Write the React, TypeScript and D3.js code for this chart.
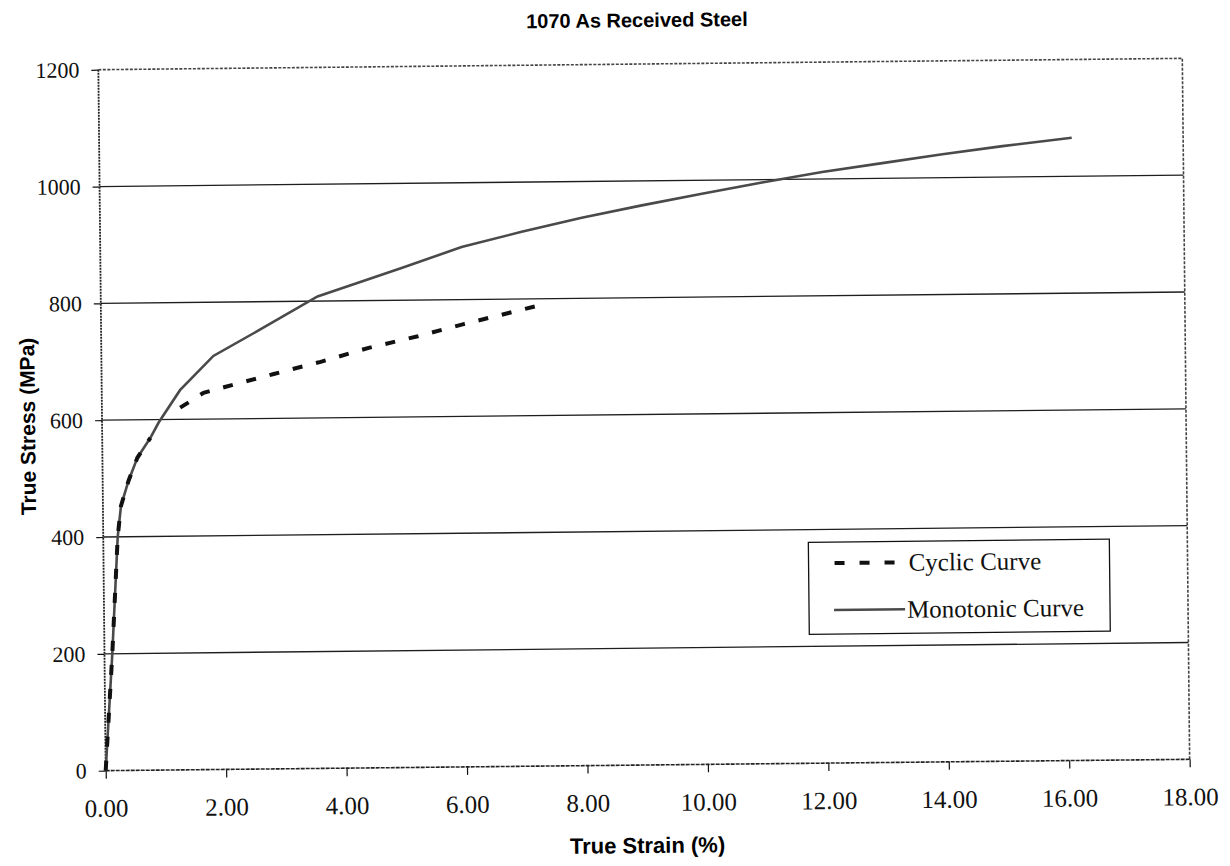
import * as React from 'react';
import * as d3 from 'd3';

// values (strain in %, stress in MPa)
const monoStrain = [0, 0.13, 0.24, 0.30, 0.43, 0.58, 0.80, 0.94, 1.30, 1.86, 2.60, 3.60, 5.00, 6.00, 7.00, 8.00, 9.00, 10.00, 11.00, 12.00, 13.00, 14.00, 15.00, 16.15];
const monoStress = [0, 200, 400, 453, 496, 535, 569, 595, 650, 708, 750, 808, 855, 890, 915, 938, 958, 977, 995, 1012, 1026, 1040, 1053, 1066];

// NaN marks the gap in the cyclic series
const cyclicStrain = [0, 0.13, 0.24, 0.30, 0.43, 0.58, 0.80, 1.00, 1.30, 1.69, 2.06, 2.86, 3.64, 4.44, 5.26, 6.02, 6.60, 7.21];
const cyclicStress = [0, 200, 400, 453, 496, 535, 569, NaN, 620, 645, 655, 676, 696, 719, 738, 758, 772, 787];

const xTicks = [0, 2, 4, 6, 8, 10, 12, 14, 16, 18];
const yTicks = [0, 200, 400, 600, 800, 1000, 1200];

const legendLabels = ['Cyclic Curve', 'Monotonic Curve'];

const serif = '"Liberation Serif", "Times New Roman", serif';
const sans = '"Liberation Sans", Arial, sans-serif';

export default class App extends React.PureComponent {

    svg: SVGSVGElement | null = null;

    componentDidMount() {
        this._draw();
    }

    _draw() {
        const width = 1230;
        const height = 866;
        const margin = { top: 64, right: 44, bottom: 101, left: 102 };
        const w = width - margin.left - margin.right;
        const h = height - margin.top - margin.bottom;

        const svg = d3.select(this.svg)
            .attr('width', width)
            .attr('height', height);
        svg.selectAll('*').remove();

        // the scan is slightly tilted
        const root = svg.append('g').attr('transform', 'rotate(-0.6 645 415)');
        const g = root.append('g')
            .attr('transform', 'translate(' + margin.left + ',' + margin.top + ')');

        const x = d3.scaleLinear().domain([0, 18]).range([0, w]);
        const y = d3.scaleLinear().domain([0, 1200]).range([h, 0]);

        // gridlines
        g.selectAll('.grid')
            .data(yTicks.filter((v) => v > 0 && v < 1200))
            .enter()
            .append('line')
            .attr('class', 'grid')
            .attr('x1', 0)
            .attr('x2', w)
            .attr('y1', (d) => y(d))
            .attr('y2', (d) => y(d))
            .attr('stroke', '#1e1e1e')
            .attr('stroke-width', 1.3);

        // plot border (top / right)
        g.append('path')
            .attr('d', 'M0,0H' + w + 'V' + h)
            .attr('fill', 'none')
            .attr('stroke', '#444')
            .attr('stroke-width', 1.6)
            .attr('stroke-dasharray', '3 1.5');

        // axes
        const xAxis = g.append('g')
            .attr('transform', 'translate(0,' + h + ')')
            .call(d3.axisBottom(x).tickValues(xTicks).tickSize(8).tickSizeOuter(0)
                .tickFormat((d) => d3.format('.2f')(d as number)));
        xAxis.select('.domain').remove();
        xAxis.selectAll('line').attr('stroke', '#111').attr('stroke-width', 1.2);
        xAxis.selectAll('text')
            .attr('y', 46)
            .attr('dy', null)
            .attr('fill', '#111')
            .style('font-family', serif)
            .style('font-size', '25px');

        const yAxis = g.append('g')
            .call(d3.axisLeft(y).tickValues(yTicks).tickSize(7).tickPadding(12).tickSizeOuter(0)
                .tickFormat((d) => d3.format('d')(d as number)));
        yAxis.select('.domain').remove();
        yAxis.selectAll('line').attr('stroke', '#111').attr('stroke-width', 1.2);
        yAxis.selectAll('text')
            .attr('fill', '#111')
            .style('font-family', serif)
            .style('font-size', '22px');

        g.append('line')
            .attr('x1', 0).attr('x2', w).attr('y1', h).attr('y2', h)
            .attr('stroke', '#222').attr('stroke-width', 1.6)
            .attr('stroke-dasharray', '4 1');
        g.append('line')
            .attr('x1', 0).attr('x2', 0).attr('y1', 0).attr('y2', h)
            .attr('stroke', '#222').attr('stroke-width', 1.8)
            .attr('stroke-dasharray', '2 1');

        // curves
        const mono: [number, number][] = monoStrain.map((v, i) => [v, monoStress[i]]);
        const cyclic: [number, number][] = cyclicStrain.map((v, i) => [v, cyclicStress[i]]);

        const line = d3.line<[number, number]>()
            .defined((d) => !isNaN(d[1]))
            .x((d) => x(d[0]))
            .y((d) => y(d[1]));

        g.append('path')
            .datum(mono)
            .attr('d', line)
            .attr('fill', 'none')
            .attr('stroke', '#4a4a4a')
            .attr('stroke-width', 2.6);

        g.append('path')
            .datum(cyclic)
            .attr('d', line)
            .attr('fill', 'none')
            .attr('stroke', '#111')
            .attr('stroke-width', 4)
            .attr('stroke-dasharray', '10 14');

        // legend
        const lg = root.append('g').attr('transform', 'translate(807,544)');
        lg.append('rect')
            .attr('width', 301)
            .attr('height', 92)
            .attr('fill', '#fff')
            .attr('stroke', '#111')
            .attr('stroke-width', 1.3);
        lg.append('line')
            .attr('x1', 26).attr('x2', 86).attr('y1', 21).attr('y2', 21)
            .attr('stroke', '#111').attr('stroke-width', 4)
            .attr('stroke-dasharray', '10 15');
        lg.append('line')
            .attr('x1', 25).attr('x2', 96).attr('y1', 68).attr('y2', 68)
            .attr('stroke', '#4a4a4a').attr('stroke-width', 2.6);
        lg.selectAll('.lbl')
            .data(legendLabels)
            .enter()
            .append('text')
            .attr('class', 'lbl')
            .attr('x', (d, i) => (i === 0 ? 100 : 98))
            .attr('y', (d, i) => (i === 0 ? 21 : 68))
            .attr('dy', '0.34em')
            .attr('fill', '#111')
            .style('font-family', serif)
            .style('font-size', '25px')
            .text((d) => d);

        // titles
        root.append('text')
            .attr('x', 641)
            .attr('y', 27)
            .attr('text-anchor', 'middle')
            .style('font-family', sans)
            .style('font-weight', 'bold')
            .style('font-size', '20px')
            .text('1070 As Received Steel');

        root.append('text')
            .attr('x', 643)
            .attr('y', 853)
            .attr('text-anchor', 'middle')
            .style('font-family', sans)
            .style('font-weight', 'bold')
            .style('font-size', '22px')
            .text('True Strain (%)');

        root.append('text')
            .attr('transform', 'translate(35,420) rotate(-90)')
            .attr('text-anchor', 'middle')
            .style('font-family', sans)
            .style('font-weight', 'bold')
            .style('font-size', '21px')
            .text('True Stress (MPa)');
    }

    render() {
        return (
            <svg
                ref={(svg) => { this.svg = svg; }}
                style={{ position: 'absolute', left: 0, top: 0, background: '#fff' }}
            ></svg>
        );
    }
}
